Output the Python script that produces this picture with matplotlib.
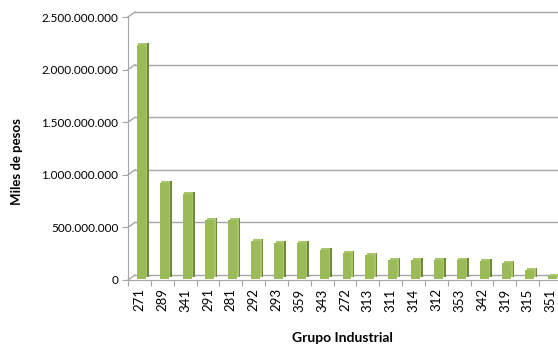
import matplotlib.pyplot as plt
import matplotlib.transforms as mtransforms
from matplotlib.lines import Line2D
from matplotlib.ticker import FuncFormatter

plt.rcParams['font.family'] = ['Lato', 'DejaVu Sans']

# Grupos industriales y valor (miles de pesos)
grupos = ["271", "289", "341", "291", "281", "292", "293", "359", "343", "272",
          "313", "311", "314", "312", "353", "342", "319", "315", "351"]
valores = [2225e6, 910e6, 808e6, 565e6, 565e6, 362e6, 343e6, 343e6, 279e6, 248e6,
           229e6, 181e6, 181e6, 178e6, 178e6, 168e6, 152e6, 89e6, 26e6]
yticks = [0, 500e6, 1000e6, 1500e6, 2000e6, 2500e6]

verde = "#9BBB59"
verde_claro = "#A9C66A"
verde_lado = "#6F8A36"
gris = "#A6A6A6"

fig = plt.figure(figsize=(5.58, 3.45), dpi=100)
ax = fig.add_axes([128 / 558, 65 / 345, 434 / 558, 263 / 345])
ax.set_xlim(-0.5, len(grupos) - 0.5)
ax.set_ylim(0, 2500e6)


def desplazado(px, py):
    return ax.transData + mtransforms.ScaledTranslation(px / 100, py / 100, fig.dpi_scale_trans)


# pared del fondo (efecto 3D)
dx, dy = 7, 5
fondo = desplazado(dx, dy)

x = list(range(len(grupos)))
fig.canvas.draw()
for v in yticks:
    ax.plot([-0.5, len(grupos) - 0.5], [v, v], color=gris, lw=1, transform=fondo,
            clip_on=False, zorder=1)
    p0 = ax.transData.transform((-0.5, v))
    fig.add_artist(Line2D([p0[0], p0[0] + dx], [p0[1], p0[1] + dy], color=gris, lw=1,
                          transform=None, zorder=1))

# columnas: lado oscuro, cara superior clara y frente
ancho = 0.39
ax.bar(x, valores, width=ancho, color=verde_lado, transform=desplazado(5, 3), zorder=2)
ax.bar(x, valores, width=ancho, color=verde_claro, transform=desplazado(3.5, 3), zorder=3)
ax.bar(x, valores, width=ancho, color=verde, transform=desplazado(2, 1), zorder=4)

ax.set_xticks([i - 0.5 for i in range(len(grupos) + 1)], minor=False)
ax.set_xticklabels([""] * (len(grupos) + 1))
ax.set_xticks(x, minor=True)
ax.set_xticklabels(grupos, minor=True, rotation=90, fontsize=9.5)
ax.tick_params(axis="x", which="major", length=4, color=gris)
ax.tick_params(axis="x", which="minor", length=0, pad=6)

ax.set_yticks(yticks)
ax.yaxis.set_major_formatter(FuncFormatter(lambda v, p: f"{int(v):,}".replace(",", ".")))
ax.tick_params(axis="y", length=4, color=gris, labelsize=8.5, pad=3)

for s in ["top", "right"]:
    ax.spines[s].set_visible(False)
for s in ["left", "bottom"]:
    ax.spines[s].set_color(gris)

fig.text(17 / 558, 1 - 162 / 345, "Miles de pesos", fontsize=9.5, fontweight="bold",
         rotation=90, ha="center", va="center")
fig.text(342 / 558, 1 - 338 / 345, "Grupo Industrial", fontsize=10, fontweight="bold",
         ha="center", va="center")

fig.savefig("out.png", dpi=100)
